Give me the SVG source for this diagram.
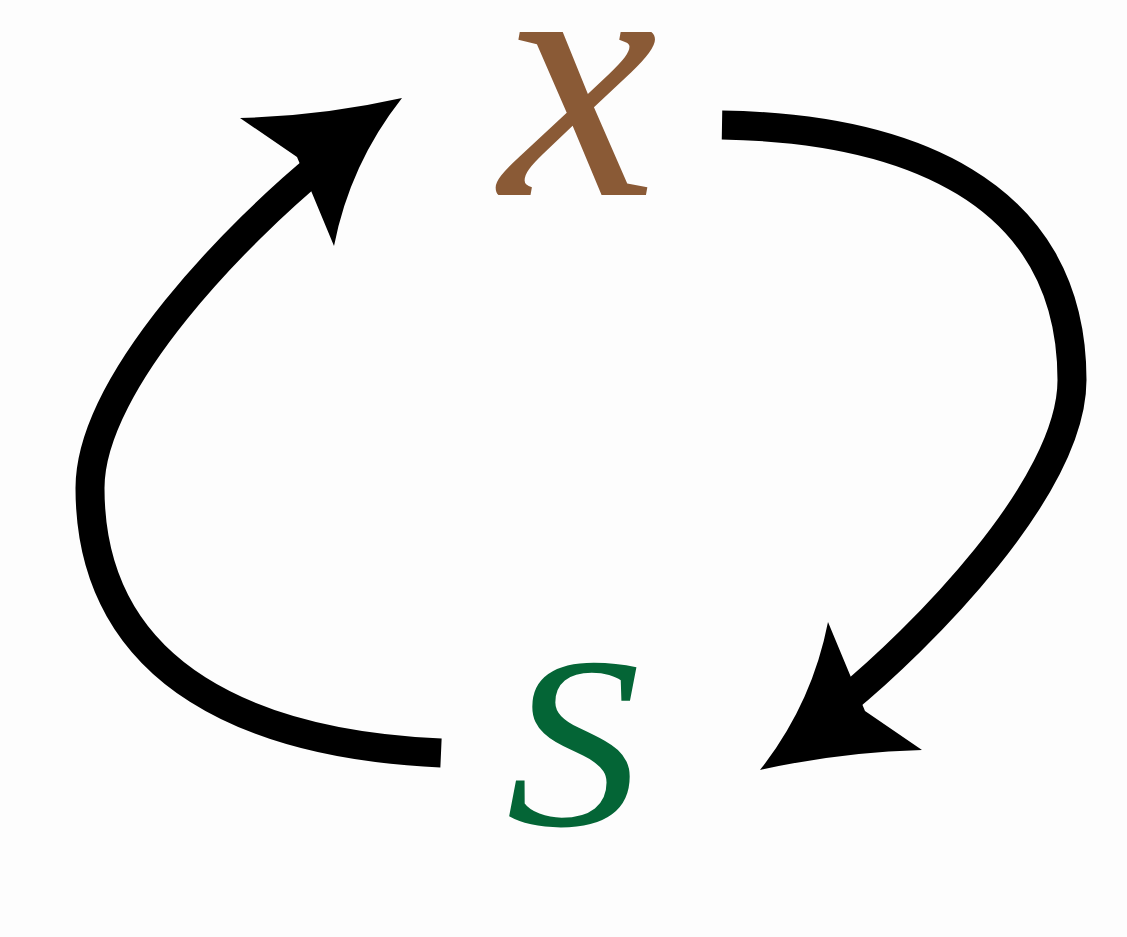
<svg xmlns="http://www.w3.org/2000/svg" width="1127" height="937" viewBox="0 0 1127 937">
<style>
.shaft{fill:none;stroke:#000;stroke-width:29;stroke-linecap:butt}
.head{fill:#000;stroke:none}
</style>
<rect width="1127" height="937" fill="#fdfdfd"/>
<g id="connectors">
<g id="edge-s-x">
<path class="shaft" d="M441,753 C260,745 90,680 90,488 C90,380 243,228 320,165"/>
<path class="head" d="M402,98 Q322,116 240,118 L297,157 L334,246 Q350,164 402,98 Z"/>
</g>
<g id="edge-x-s">
<path class="shaft" d="M722,125 C902,128 1072,188 1072,380 C1072,488 919,640 842,703"/>
<path class="head" d="M760,770 Q840,752 922,750 L865,711 L828,622 Q812,704 760,770 Z"/>
</g>
</g>
<g id="node-x">
<text x="500" y="195" font-family="Liberation Serif" font-style="italic" font-size="355" fill="#8A5A36">x</text>
</g>
<g id="node-s" transform="translate(506,825) scale(1.1,1)">
<text x="0" y="0" font-family="Liberation Serif" font-style="italic" font-size="245" fill="#046536">S</text>
</g>
</svg>
